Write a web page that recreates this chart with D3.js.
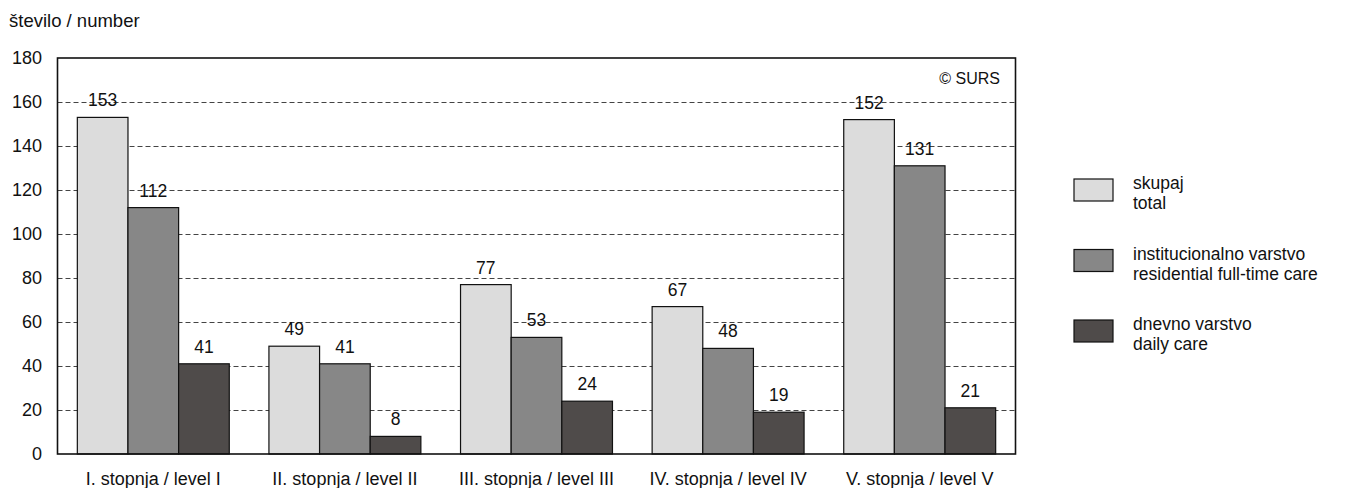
<!DOCTYPE html>
<html><head><meta charset="utf-8">
<script src="https://cdn.jsdelivr.net/npm/d3@7"></script>
<style>body{margin:0;background:#fff;} svg{display:block;font-family:"Liberation Sans",Arial,sans-serif;}</style>
</head><body>
<script>
const categories = ["I. stopnja / level I","II. stopnja / level II","III. stopnja / level III","IV. stopnja / level IV","V. stopnja / level V"];
const seriesNames = [["skupaj","total"],["institucionalno varstvo","residential full-time care"],["dnevno varstvo","daily care"]];
const skupaj = [153,49,77,67,152];
const institucionalno = [112,41,53,48,131];
const dnevno = [41,8,24,19,21];
const yTicks = [0,20,40,60,80,100,120,140,160,180];
const colors = ["#dcdcdc","#878787","#4f4b4a"];
const series = [skupaj,institucionalno,dnevno];

const W=1345,H=488;
const m={l:57.5,r:1015.5,t:58,b:454};
const FF="Liberation Sans, Arial, sans-serif";
const svg=d3.select("body").append("svg").attr("width",W).attr("height",H);
const x=d3.scaleBand().domain(categories).range([m.l,m.r]).paddingInner(0.207).paddingOuter(0.1035);
const xs=d3.scaleBand().domain([0,1,2]).range([0,x.bandwidth()]);
const y=d3.scaleLinear().domain([0,180]).range([m.b,m.t]);

// grid
svg.append("g").selectAll("line").data(yTicks.filter(d=>d>0&&d<180)).join("line")
 .attr("x1",m.l).attr("x2",m.r).attr("y1",d=>Math.round(y(d))+0.5).attr("y2",d=>Math.round(y(d))+0.5)
 .attr("stroke","#444").attr("stroke-width",1).attr("stroke-dasharray","5,3");

// bars
series.forEach((s,i)=>{
 svg.append("g").selectAll("rect").data(s).join("rect")
  .attr("x",(d,j)=>x(categories[j])+xs(i)).attr("width",xs.bandwidth())
  .attr("y",d=>y(d)).attr("height",d=>y(0)-y(d))
  .attr("fill",colors[i]).attr("stroke","#111").attr("stroke-width",1.2);
 svg.append("g").selectAll("text").data(s).join("text")
  .attr("x",(d,j)=>x(categories[j])+xs(i)+xs.bandwidth()/2).attr("y",d=>y(d)-11)
  .attr("text-anchor","middle").attr("font-size",17.5).attr("fill","#111").text(d=>d);
});

// frame
svg.append("rect").attr("x",m.l).attr("y",m.t).attr("width",m.r-m.l).attr("height",m.b-m.t)
 .attr("fill","none").attr("stroke","#111").attr("stroke-width",1.6);

// y axis labels
const yAxis=d3.axisLeft(y).tickValues(yTicks).tickSize(0).tickPadding(15.5);
const ga=svg.append("g").attr("transform",`translate(${m.l},0)`).call(yAxis);
ga.select(".domain").remove();
ga.selectAll("text").attr("font-size",18).attr("fill","#111").attr("font-family",FF);

// x axis labels
const xAxis=d3.axisBottom(x).tickSize(0).tickPadding(18.5);
const gx=svg.append("g").attr("transform",`translate(0,${m.b})`).call(xAxis);
gx.select(".domain").remove();
gx.selectAll("text").attr("font-size",18).attr("fill","#111").attr("font-family",FF);

svg.append("text").attr("x",9).attr("y",27).attr("font-size",18.5).attr("fill","#111").text("število / number");
svg.append("text").attr("x",1000).attr("y",84).attr("text-anchor","end").attr("font-size",16).attr("fill","#111").text("© SURS");

// legend
const lg=svg.append("g");
seriesNames.forEach((n,i)=>{
 const yy=179+i*70.5;
 lg.append("rect").attr("x",1074).attr("y",yy).attr("width",39).attr("height",22)
  .attr("fill",colors[i]).attr("stroke","#111").attr("stroke-width",1.2);
 lg.append("text").attr("x",1133).attr("y",yy+10).attr("font-size",17.5).attr("fill","#111").text(n[0]);
 lg.append("text").attr("x",1133).attr("y",yy+30).attr("font-size",17.5).attr("fill","#111").text(n[1]);
});
</script>
</body></html>
